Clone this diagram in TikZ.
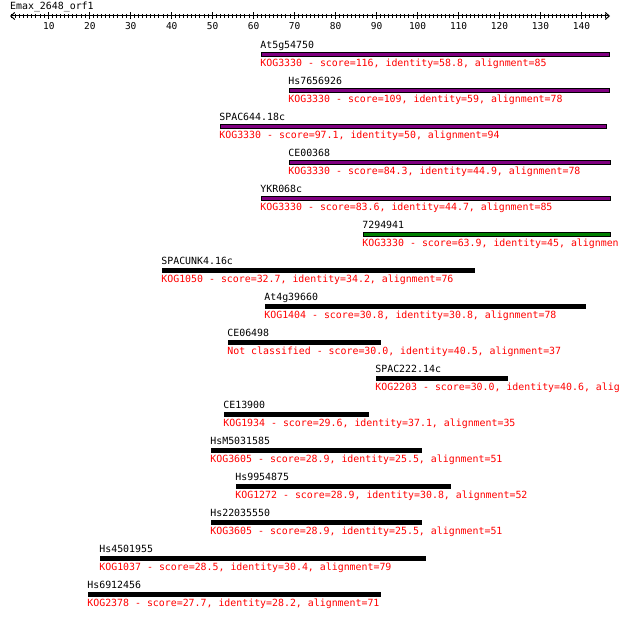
\documentclass[tikz,border=0pt]{standalone}
\usepackage{fontspec}
\setmonofont{DejaVu Sans Mono}
\usetikzlibrary{arrows.meta}
\definecolor{kogpurple}{RGB}{128,0,128}
\definecolor{koggreen}{RGB}{0,128,0}
\tikzset{
  nametext/.style={anchor=base west, inner sep=0pt, font=\ttfamily\fontsize{9.9}{10}\selectfont, text=black},
  kogtext/.style={nametext, text=red},
  hitbar/.style={draw=black, line width=1pt},
  axisline/.style={line width=1pt, {Straight Barb[length=4pt,width=7pt,line width=1pt]}-{Straight Barb[length=4pt,width=7pt,line width=1pt]}},
  ticksty/.style={line width=1pt},
  axislabel/.style={anchor=base, inner sep=0pt, font=\ttfamily\fontsize{9.5}{10}\selectfont}
}
\newcommand\kogrow[7]{%
  \pgfmathsetmacro\yb{48.5+36*#2}%
  \node[nametext] (#1name) at (#3-0.8,\yb) {#6};
  \path[hitbar, fill=#5] (#3+0.5,\yb+4) rectangle (#4-0.5,\yb+8);
  \node[kogtext] (#1kog) at (#3-0.8,\yb+18.3) {#7};
}
\begin{document}
\begin{tikzpicture}[x=1pt,y=-1pt]
\useasboundingbox (0,0) rectangle (620,617);
\clip (0,0) rectangle (620,617);
\node[nametext] (title) at (10,10) {Emax\_2648\_orf1};
\coordinate (axl) at (10,16);
\coordinate (axr) at (610,16);
\draw[axisline] (axl) -- (axr);
\foreach \v in {1,...,146}{
  \draw[ticksty] (7.3+4.098*\v,14) -- (7.3+4.098*\v,18);
}
\foreach \v in {10,20,...,140}{
  \draw[ticksty] (7.3+4.098*\v,12.5) -- (7.3+4.098*\v,19.5);
  \node[axislabel] (lab\v) at (7.8+4.098*\v,29.5) {\v};
}
\kogrow{r0}{0}{261}{610}{kogpurple}{At5g54750}{KOG3330 - score=116, identity=58.8, alignment=85}
\kogrow{r1}{1}{289}{610}{kogpurple}{Hs7656926}{KOG3330 - score=109, identity=59, alignment=78}
\kogrow{r2}{2}{220}{607}{kogpurple}{SPAC644.18c}{KOG3330 - score=97.1, identity=50, alignment=94}
\kogrow{r3}{3}{289}{611}{kogpurple}{CE00368}{KOG3330 - score=84.3, identity=44.9, alignment=78}
\kogrow{r4}{4}{261}{611}{kogpurple}{YKR068c}{KOG3330 - score=83.6, identity=44.7, alignment=85}
\kogrow{r5}{5}{363}{611}{koggreen}{7294941}{KOG3330 - score=63.9, identity=45, alignmen}
\kogrow{r6}{6}{162}{475}{black}{SPACUNK4.16c}{KOG1050 - score=32.7, identity=34.2, alignment=76}
\kogrow{r7}{7}{265}{586}{black}{At4g39660}{KOG1404 - score=30.8, identity=30.8, alignment=78}
\kogrow{r8}{8}{228}{381}{black}{CE06498}{Not classified - score=30.0, identity=40.5, alignment=37}
\kogrow{r9}{9}{376}{508}{black}{SPAC222.14c}{KOG2203 - score=30.0, identity=40.6, alig}
\kogrow{r10}{10}{224}{369}{black}{CE13900}{KOG1934 - score=29.6, identity=37.1, alignment=35}
\kogrow{r11}{11}{211}{422}{black}{HsM5031585}{KOG3605 - score=28.9, identity=25.5, alignment=51}
\kogrow{r12}{12}{236}{451}{black}{Hs9954875}{KOG1272 - score=28.9, identity=30.8, alignment=52}
\kogrow{r13}{13}{211}{422}{black}{Hs22035550}{KOG3605 - score=28.9, identity=25.5, alignment=51}
\kogrow{r14}{14}{100}{426}{black}{Hs4501955}{KOG1037 - score=28.5, identity=30.4, alignment=79}
\kogrow{r15}{15}{88}{381}{black}{Hs6912456}{KOG2378 - score=27.7, identity=28.2, alignment=71}
\end{tikzpicture}
\end{document}
